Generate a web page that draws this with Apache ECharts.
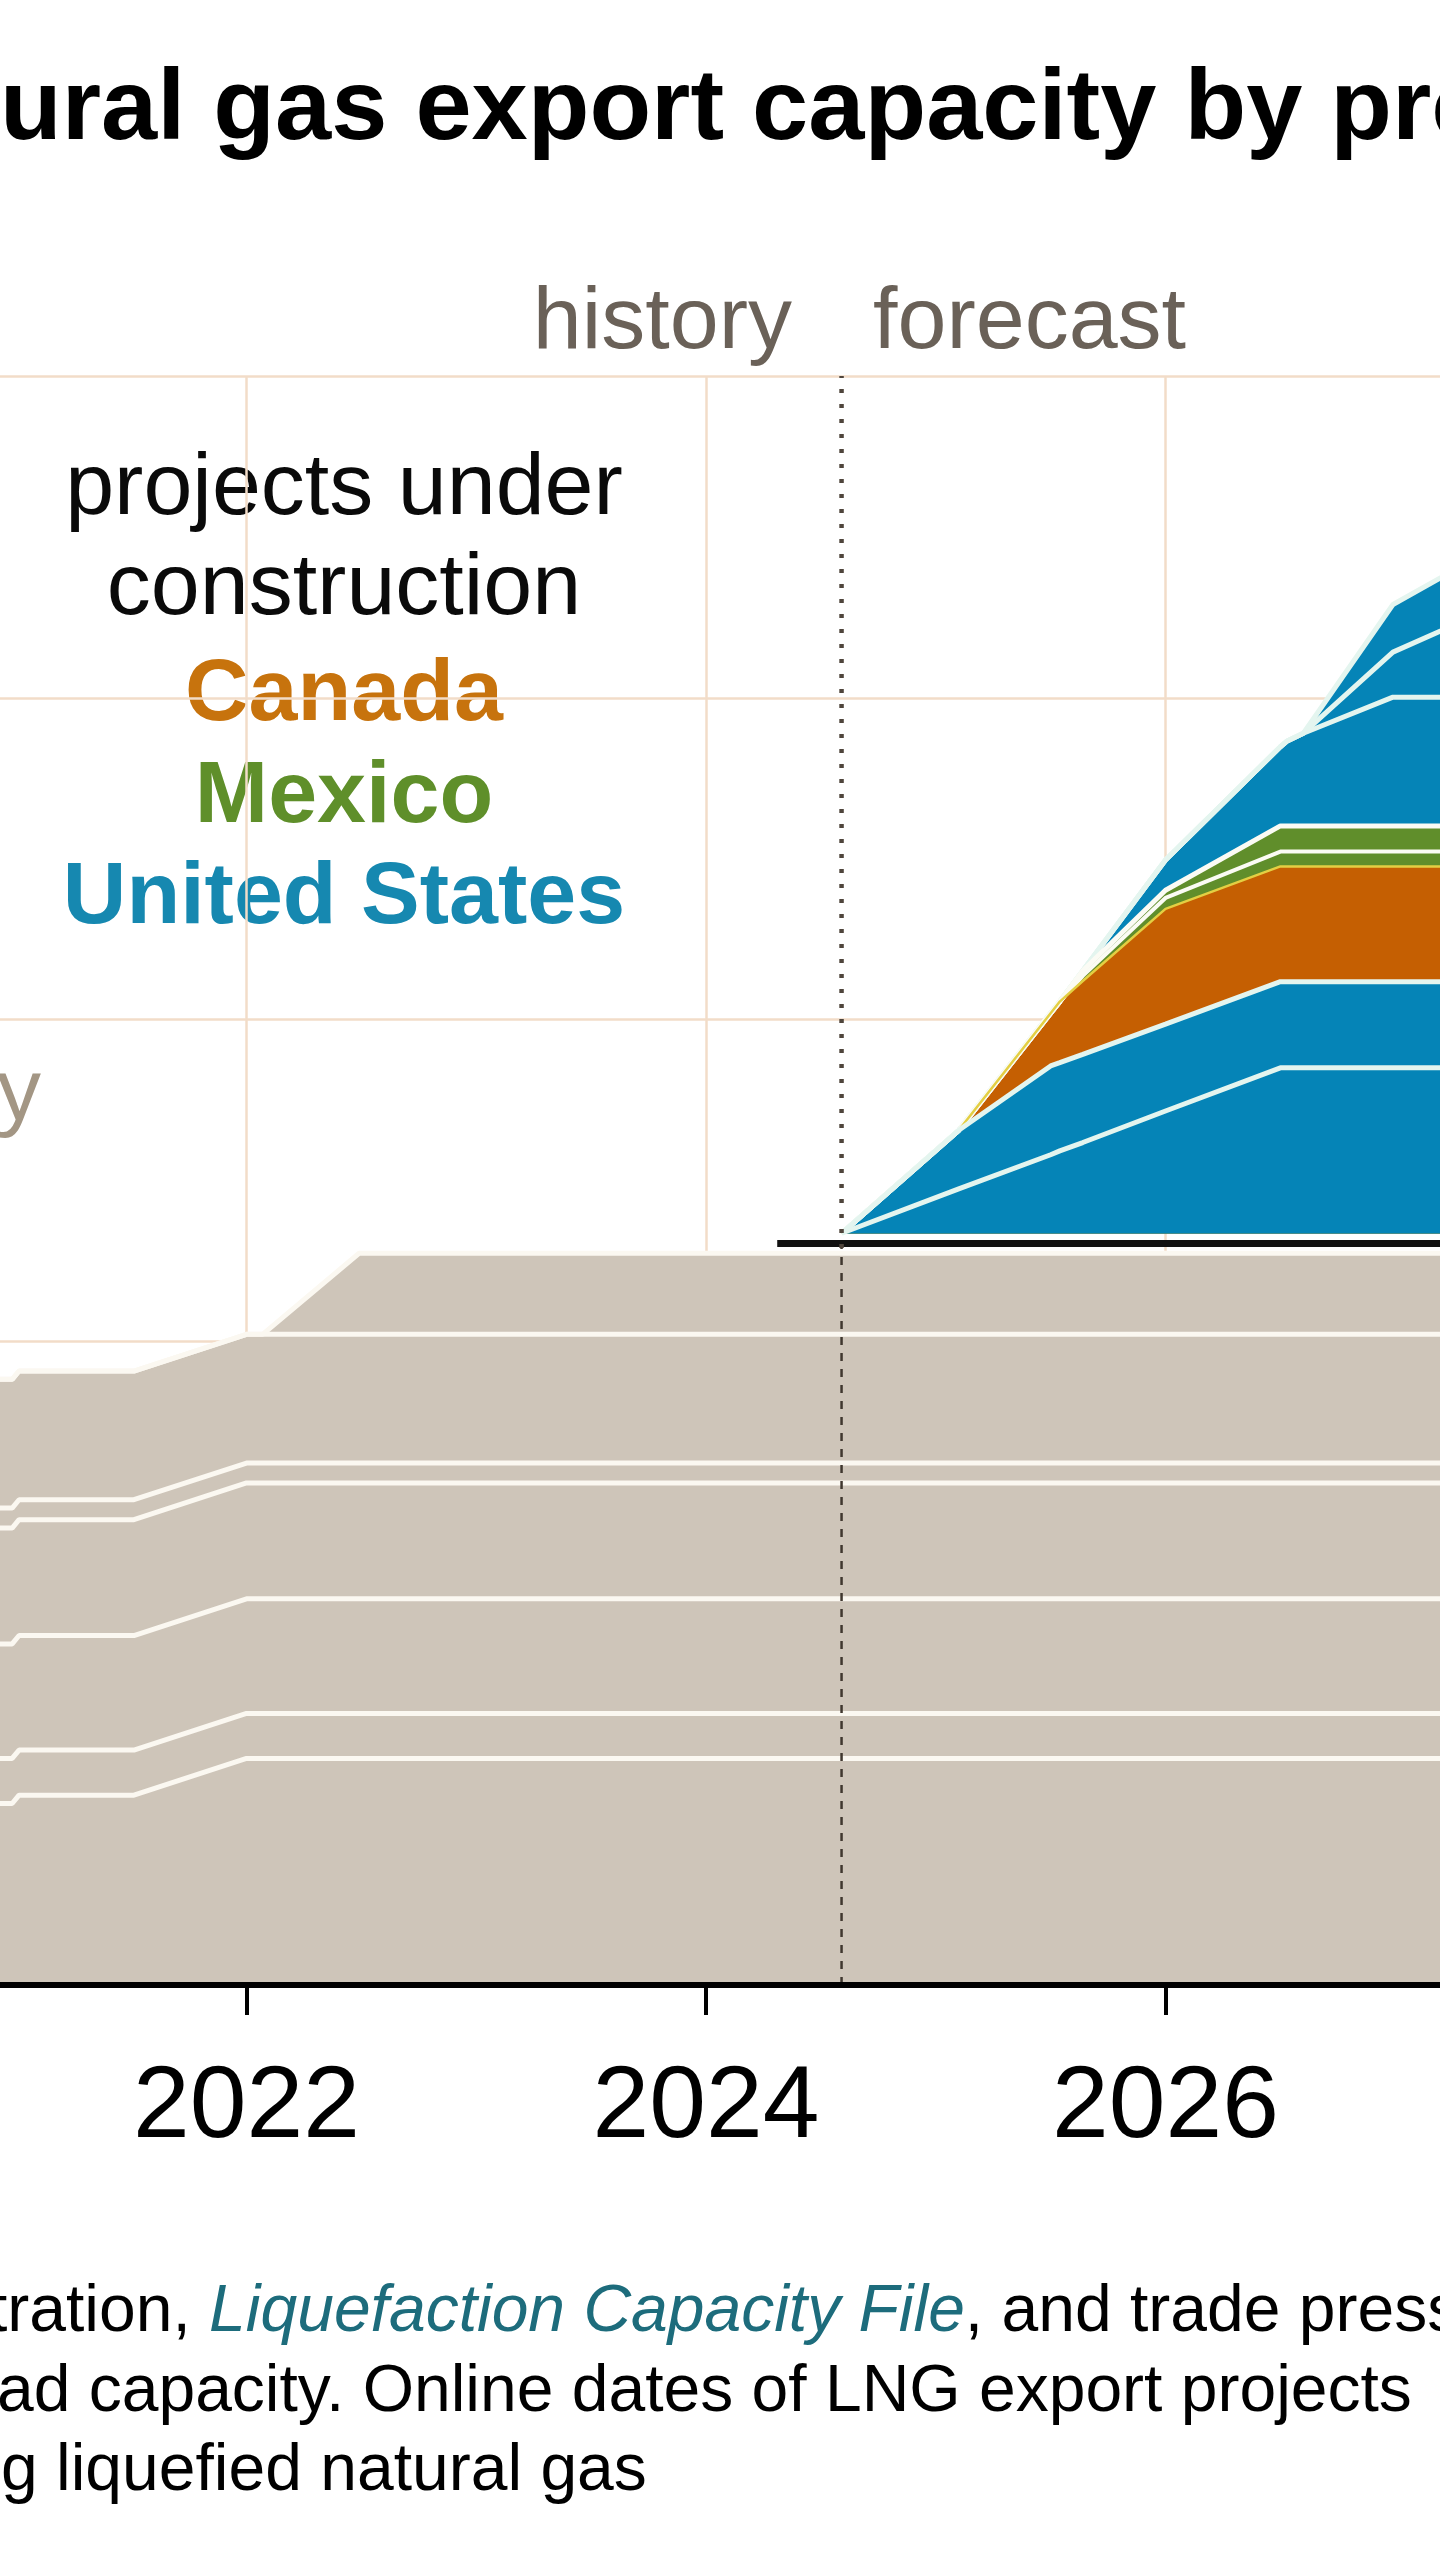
<!DOCTYPE html>
<html>
<head>
<meta charset="utf-8">
<script src="https://cdn.jsdelivr.net/npm/echarts@6/dist/echarts.min.js"></script>
<style>
html,body{margin:0;padding:0;background:#ffffff;}
#chart{width:1440px;height:2560px;}
</style>
</head>
<body>
<div id="chart"></div>
<script>
// ------------------------- DATA -------------------------
const tickYears = [2020, 2022, 2024, 2026, 2028];
const forecastStart = 2024.59;

// existing (history) capacity layers, Bcf/d
const existingYears = [2020.0, 2020.98, 2021.01, 2021.51, 2022.0, 2022.07, 2022.49, 2028.0];
const existing1 = [2.82, 2.82, 2.95, 2.95, 3.52, 3.52, 3.52, 3.52];
const existing2 = [0.70, 0.70, 0.70, 0.70, 0.70, 0.70, 0.70, 0.70];
const existing3 = [1.78, 1.78, 1.78, 1.78, 1.78, 1.78, 1.78, 1.78];
const existing4 = [1.80, 1.80, 1.80, 1.80, 1.80, 1.80, 1.80, 1.80];
const existing5 = [0.31, 0.31, 0.31, 0.31, 0.31, 0.31, 0.31, 0.31];
const existing6 = [2.00, 2.00, 2.00, 2.00, 2.00, 2.00, 2.00, 2.00];
const existing7 = [0.00, 0.00, 0.00, 0.00, 0.00, 0.00, 1.26, 1.26];

// existing-capacity marker line
const markerYears = [2024.31, 2028.0];
const markerValues = [11.52, 11.52];

// projects under construction (forecast), Bcf/d
const forecastYears = [2024.59, 2025.10, 2025.50, 2025.54, 2025.64, 2026.00, 2026.50, 2026.53, 2026.60, 2026.99, 2027.25];
const forecastBase  = [11.68, 11.68, 11.68, 11.68, 11.68, 11.68, 11.68, 11.68, 11.68, 11.68, 11.68];
const unitedStates1 = [0, 0.69, 1.22, 1.28, 1.41, 1.90, 2.57, 2.57, 2.57, 2.57, 2.57];
const unitedStates2 = [0, 0.91, 1.38, 1.37, 1.37, 1.35, 1.34, 1.34, 1.34, 1.34, 1.34];
const canada        = [0, 0, 0.82, 0.95, 1.14, 1.79, 1.79, 1.79, 1.79, 1.79, 1.79];
const mexico1       = [0, 0, 0, 0, 0.08, 0.17, 0.23, 0.23, 0.23, 0.23, 0.23];
const mexico2       = [0, 0, 0, 0, 0.08, 0.12, 0.40, 0.40, 0.40, 0.40, 0.40];
const unitedStates3 = [0, 0, 0, 0, 0, 0.47, 1.23, 1.32, 1.44, 2.00, 2.00];
const unitedStates4 = [0, 0, 0, 0, 0, 0, 0, 0, 0, 0.70, 1.11];
const unitedStates5 = [0, 0, 0, 0, 0, 0, 0, 0, 0, 0.74, 0.85];

// dividing line extents (value axis)
const dividerLower = [0, 11.45];
const dividerUpper = [11.45, 25];

// ------------------------- STYLE -------------------------
const BEIGE = '#cec5b9';
const BLUE = '#0584b7';
const ORANGE = '#c55f02';
const GREEN = '#608e2b';
const GRIDC = '#f2dcc8';
const FONT = '"Liberation Sans", Arial, Helvetica, sans-serif';

function cumulative(base, layers) {
  const out = [];
  let run = base.slice();
  layers.forEach(l => { run = run.map((v, i) => v + l[i]); out.push(run); });
  return out;
}

const series = [];

// existing layers: painter's order (top layer first, filled to 0)
const existingLayers = [existing1, existing2, existing3, existing4, existing5, existing6, existing7];
const existingCum = cumulative(existingYears.map(() => 0), existingLayers);
for (let k = existingCum.length - 1; k >= 0; k--) {
  series.push({
    type: 'line', silent: true, symbol: 'none', animation: false, xAxisIndex: 0,
    data: existingYears.map((x, j) => [x, existingCum[k][j]]),
    lineStyle: { color: '#fbf8f1', width: 5 },
    areaStyle: { color: BEIGE, opacity: 1 }
  });
}

// forecast layers
const forecastLayers = [
  { v: unitedStates1, fill: BLUE,   line: '#e4f5ef', w: 5 },
  { v: unitedStates2, fill: BLUE,   line: '#e4f5ef', w: 5 },
  { v: canada,        fill: ORANGE, line: '#e3cf43', w: 2.5 },
  { v: mexico1,       fill: GREEN,  line: '#fbfbf4', w: 4 },
  { v: mexico2,       fill: GREEN,  line: '#fbfbf4', w: 5 },
  { v: unitedStates3, fill: BLUE,   line: '#e4f5ef', w: 5 },
  { v: unitedStates4, fill: BLUE,   line: '#e4f5ef', w: 5 },
  { v: unitedStates5, fill: BLUE,   line: '#e4f5ef', w: 5 }
];
const forecastCum = cumulative(forecastBase, forecastLayers.map(l => l.v));
for (let k = forecastCum.length - 1; k >= 0; k--) {
  const L = forecastLayers[k];
  series.push({
    type: 'line', silent: true, symbol: 'none', animation: false, xAxisIndex: 0,
    data: forecastYears.map((x, j) => [x, forecastCum[k][j]]),
    lineStyle: { color: L.line, width: L.w },
    areaStyle: { color: L.fill, opacity: 1, origin: forecastBase[0] }
  });
}

// black marker line at top of existing capacity
series.push({
  type: 'line', silent: true, symbol: 'none', animation: false, xAxisIndex: 0,
  data: markerYears.map((x, j) => [x, markerValues[j]]),
  lineStyle: { color: '#111111', width: 7, cap: 'butt' }
});

// history / forecast divider
series.push({
  type: 'line', silent: true, symbol: 'none', animation: false, xAxisIndex: 0,
  data: dividerLower.map(v => [forecastStart, v]),
  lineStyle: { color: '#40372f', width: 2.5, type: [8, 8] }
});
series.push({
  type: 'line', silent: true, symbol: 'none', animation: false, xAxisIndex: 0,
  data: dividerUpper.map(v => [forecastStart, v]),
  lineStyle: { color: '#4f453c', width: 4.5, type: [4, 11], cap: 'butt' }
});

function txt(x, y, text, font, fill, align) {
  return {
    type: 'text', x: x, y: y, silent: true,
    style: { text: text, font: font, fill: fill, align: align, textAlign: align,
             verticalAlign: 'middle', textVerticalAlign: 'middle' }
  };
}

const graphics = [
  txt(0, 111, 'ural gas export capacity by pro', 'bold 101px ' + FONT, '#000000', 'left'),
  txt(792, 324, 'history', '88px ' + FONT, '#6a6158', 'right'),
  txt(873, 324, 'forecast', '88px ' + FONT, '#6a6158', 'left'),
  txt(344, 490, 'projects under', '88px ' + FONT, '#0a0a0a', 'center'),
  txt(344, 590, 'construction', '88px ' + FONT, '#0a0a0a', 'center'),
  txt(344, 696, 'Canada', 'bold 88px ' + FONT, '#c7730d', 'center'),
  txt(344, 798, 'Mexico', 'bold 88px ' + FONT, '#5f8f2a', 'center'),
  txt(344, 899, 'United States', 'bold 88px ' + FONT, '#1688b0', 'center'),
  txt(41, 1096, 'y', '88px ' + FONT, '#a39684', 'right'),
  {
    type: 'text', x: -11, y: 2313, silent: true,
    style: {
      text: '{n|tration, }{i|Liquefaction Capacity File}{n|, and trade press}',
      verticalAlign: 'middle', textVerticalAlign: 'middle', align: 'left', textAlign: 'left',
      rich: {
        n: { font: '66px ' + FONT, fill: '#000000' },
        i: { font: 'italic 66px ' + FONT, fill: '#1d6c7c' }
      }
    }
  },
  txt(-3, 2393, 'ad capacity. Online dates of LNG export projects', '66px ' + FONT, '#000000', 'left'),
  txt(1, 2472, 'g liquefied natural gas', '66px ' + FONT, '#000000', 'left')
];

const xMin = tickYears[0];
const xMax = tickYears[tickYears.length - 1];

const chart = echarts.init(document.getElementById('chart'), null, { renderer: 'canvas', width: 1440, height: 2560 });
chart.setOption({
  backgroundColor: '#ffffff',
  animation: false,
  grid: { left: -213, top: 376, width: 1838, height: 1609, containLabel: false, outerBoundsMode: 'none' },
  xAxis: [
    { // gridlines (below the areas)
      type: 'value', min: xMin, max: xMax, interval: 2, position: 'bottom',
      axisLine: { show: false }, axisTick: { show: false }, axisLabel: { show: false },
      splitLine: { show: true, lineStyle: { color: GRIDC, width: 2.5 } }
    },
    { // visible axis line, ticks and labels (above the areas)
      type: 'value', min: xMin, max: xMax, interval: 2, position: 'bottom', z: 10,
      axisLine: { show: true, onZero: false, lineStyle: { color: '#000000', width: 6 } },
      axisTick: { show: true, length: 30, lineStyle: { color: '#000000', width: 4 } },
      axisLabel: { show: true, fontSize: 102, fontFamily: FONT, color: '#000000', margin: 73,
                   formatter: v => String(v) },
      splitLine: { show: false }
    }
  ],
  yAxis: {
    type: 'value', min: 0, max: 25, interval: 5,
    axisLine: { show: false }, axisTick: { show: false }, axisLabel: { show: false },
    splitLine: { show: true, lineStyle: { color: GRIDC, width: 2.5 } }
  },
  series: series,
  graphic: graphics
});
</script>
</body>
</html>
